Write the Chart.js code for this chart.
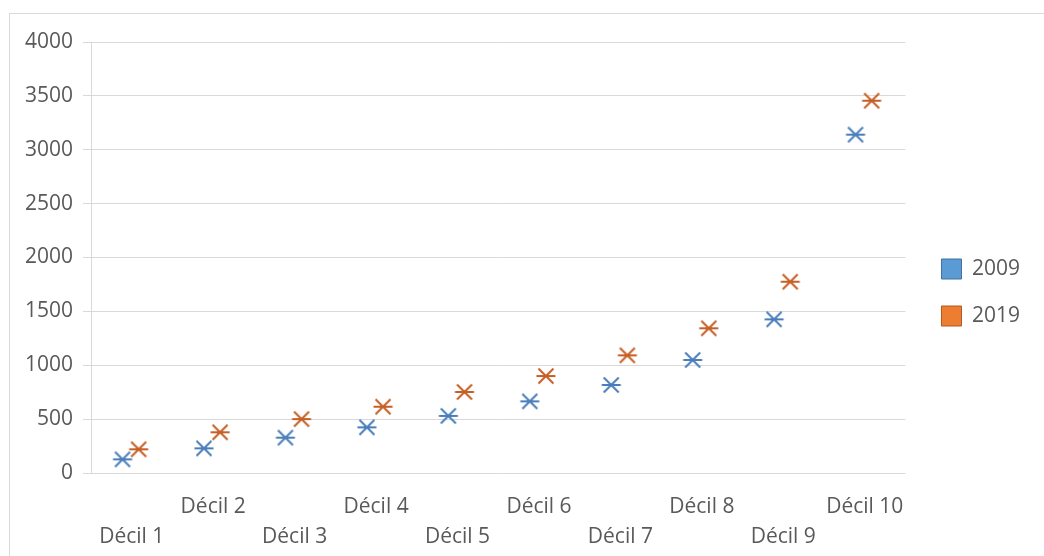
<!DOCTYPE html>
<html>
<head>
<meta charset="utf-8">
<script src="https://cdn.jsdelivr.net/npm/chart.js@4"></script>
<style>
  html, body { margin: 0; padding: 0; background: #fff; overflow: hidden; }
  #frame { position: absolute; left: 9px; top: 13px; width: 1040px; height: 550px; border: 1px solid #d9d9d9; background: #fff; }
  canvas { display: block; }
</style>
</head>
<body>
<div id="frame"><canvas id="c" width="1033" height="542"></canvas></div>
<script>
// Income by decile, 2009 vs 2019
const categories = ['Décil 1', 'Décil 2', 'Décil 3', 'Décil 4', 'Décil 5', 'Décil 6', 'Décil 7', 'Décil 8', 'Décil 9', 'Décil 10'];
const seriesNames = ['2009', '2019'];
const values2009 = [127, 229, 328, 424, 530, 665, 817, 1049, 1426, 3140];
const values2019 = [220, 378, 500, 615, 752, 900, 1092, 1343, 1775, 3455];
const yTickValues = [0, 500, 1000, 1500, 2000, 2500, 3000, 3500, 4000];

const FONT = '"Open Sans", "DejaVu Sans", sans-serif';
const FONT_SIZE = 21;
const TEXT = '#595959';
const GRID = '#d9d9d9';

// Asterisk-style marker: an X with a horizontal bar
function makeMarker(color) {
  const cv = document.createElement('canvas');
  cv.width = 22; cv.height = 20;
  const g = cv.getContext('2d');
  g.strokeStyle = color;
  g.lineWidth = 2;
  g.lineCap = 'butt';
  const cx = 11, cy = 10;
  g.beginPath();
  g.moveTo(cx - 7.5, cy - 7.5); g.lineTo(cx + 7.5, cy + 7.5);
  g.moveTo(cx - 7.5, cy + 7.5); g.lineTo(cx + 7.5, cy - 7.5);
  g.moveTo(cx - 9.5, cy); g.lineTo(cx + 9.5, cy);
  g.stroke();
  return cv;
}

// each series sits slightly to one side of its category centre
function toPoints(values, shift) {
  return values.map((v, i) => ({ x: i + 1 + shift, y: v }));
}

// nudge the legend block next to the plot area
const legendNudge = {
  id: 'legendNudge',
  afterLayout(chart) {
    const lg = chart.legend;
    if (!lg) return;
    lg.left += 10; lg.right += 10;
    lg.top -= 4.5; lg.bottom -= 4.5;
  }
};

new Chart(document.getElementById('c'), {
  type: 'line',
  data: {
    datasets: [
      {
        label: seriesNames[0],
        data: toPoints(values2009, -0.113),
        showLine: false,
        backgroundColor: '#5b9bd5',
        borderColor: '#41719c',
        borderWidth: 1,
        pointStyle: makeMarker('#4a7ebb'),
        pointRadius: 10
      },
      {
        label: seriesNames[1],
        data: toPoints(values2019, 0.085),
        showLine: false,
        backgroundColor: '#ed7d31',
        borderColor: '#ae5a21',
        borderWidth: 1,
        pointStyle: makeMarker('#c65f24'),
        pointRadius: 10
      }
    ]
  },
  options: {
    responsive: false,
    animation: false,
    events: [],
    layout: { padding: { left: 5, right: 23, top: 28, bottom: 4 } },
    plugins: {
      tooltip: { enabled: false },
      legend: {
        position: 'right',
        labels: {
          boxWidth: 20,
          boxHeight: 20,
          padding: 26,
          color: TEXT,
          font: { family: FONT, size: FONT_SIZE }
        }
      }
    },
    scales: {
      x: {
        type: 'linear',
        min: 0.5,
        max: categories.length + 0.5,
        afterBuildTicks(scale) {
          scale.ticks = categories.map((_, i) => ({ value: i + 1 }));
        },
        afterFit(scale) {
          scale.height = 79;
        },
        grid: { display: false, drawTicks: false },
        border: { display: false },
        ticks: {
          autoSkip: false,
          maxRotation: 0,
          minRotation: 0,
          padding: 19,
          color: TEXT,
          font: { family: FONT, size: FONT_SIZE, lineHeight: 30 / FONT_SIZE },
          callback(value) {
            const i = Math.round(value) - 1;
            const name = categories[i];
            // alternate rows so neighbouring labels don't collide
            return i % 2 === 0 ? ['', name] : [name];
          }
        }
      },
      y: {
        min: yTickValues[0],
        max: yTickValues[yTickValues.length - 1],
        afterBuildTicks(scale) {
          scale.ticks = yTickValues.map(v => ({ value: v }));
        },
        grid: { color: GRID, lineWidth: 1, tickLength: 8 },
        border: { display: true, color: GRID, width: 1 },
        ticks: {
          padding: 10,
          color: TEXT,
          font: { family: FONT, size: FONT_SIZE },
          callback: v => String(v)
        }
      }
    }
  },
  plugins: [legendNudge]
});
</script>
</body>
</html>
